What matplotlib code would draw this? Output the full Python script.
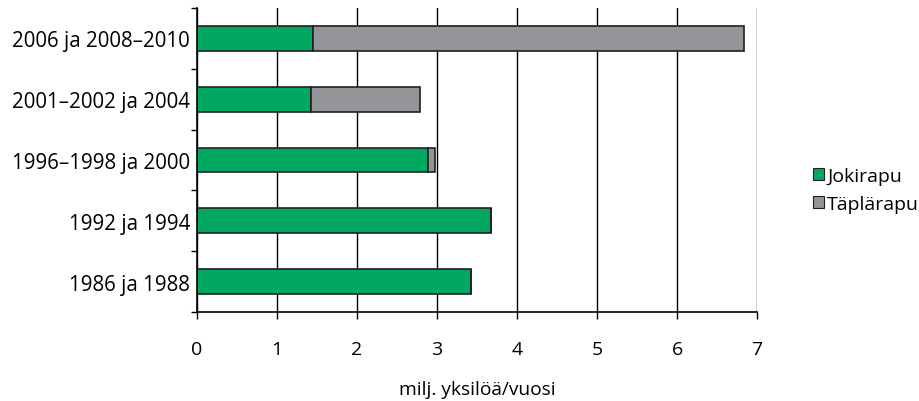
import numpy as np
import matplotlib
matplotlib.use('Agg')
import matplotlib.pyplot as plt
from matplotlib.patches import Patch

# ── Data ─────────────────────────────────────────────
categories = ['1986 ja 1988', '1992 ja 1994', '1996–1998 ja 2000',
              '2001–2002 ja 2004', '2006 ja 2008–2010']
jokirapu = [3.43, 3.68, 2.89, 1.43, 1.45]
taplarapu = [0.0, 0.0, 0.09, 1.36, 5.39]
series_names = ['Jokirapu', 'Täplärapu']
x_ticks = [0, 1, 2, 3, 4, 5, 6, 7]
x_label = 'milj. yksilöä/vuosi'

GREEN = '#00a862'
GRAY = '#939598'
EDGE = '#231f20'

plt.rcParams['font.family'] = ['Open Sans', 'DejaVu Sans']

fig = plt.figure(figsize=(9.2, 4.02), dpi=100)
ax = fig.add_axes([0.214, 0.2214, 0.609, 0.7562])

y = np.arange(len(categories))
ax.barh(y, jokirapu, height=0.41, color=GREEN, edgecolor=EDGE, linewidth=1.2, zorder=3)
ax.barh(y, taplarapu, left=jokirapu, height=0.41, color=GRAY, edgecolor=EDGE,
        linewidth=1.2, zorder=3)

ax.set_xlim(0, 7)
ax.set_ylim(-0.5, len(categories) - 0.5)
ax.set_xticks(x_ticks)
ax.set_xticklabels([str(t) for t in x_ticks], fontsize=14)
ax.set_yticks(y)
ax.set_yticklabels(categories, fontsize=14.8)
ax.set_yticks(np.arange(-0.5, len(categories), 1.0), minor=True)

ax.tick_params(axis='y', which='major', length=0, pad=5)
ax.tick_params(axis='y', which='minor', length=4.5, width=1, color='black', direction='out')
ax.tick_params(axis='x', which='major', length=5, width=1, direction='out', pad=15)

ax.grid(axis='x', color='black', linewidth=1, zorder=0)
for s in ['top', 'right']:
    ax.spines[s].set_visible(False)
for s in ['left', 'bottom']:
    ax.spines[s].set_linewidth(1.2)
    ax.spines[s].set_zorder(4)

ax.set_xlabel(x_label, fontsize=13.8, labelpad=16)

handles = [Patch(facecolor=GREEN, edgecolor=EDGE, linewidth=0.8),
           Patch(facecolor=GRAY, edgecolor=EDGE, linewidth=0.8)]
fig.legend(handles, series_names, loc='center left', bbox_to_anchor=(0.884, 0.525),
           frameon=False, fontsize=14, handlelength=0.57, handleheight=0.57,
           handletextpad=0.15, labelspacing=0.5, borderaxespad=0, borderpad=0)

fig.savefig('out.png', dpi=100)
